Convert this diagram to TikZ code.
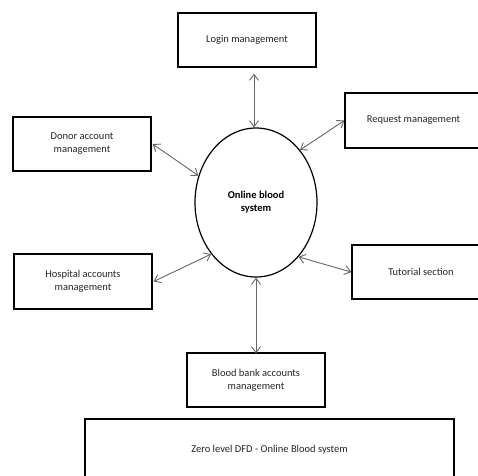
\documentclass[tikz,border=0pt]{standalone}
\usepackage{fontspec}
\setmainfont{Carlito}
\usetikzlibrary{shapes.geometric,arrows.meta,calc}
\begin{document}
\begin{tikzpicture}[x=1pt,y=-1pt,
  box/.style={draw=black,line width=1.3pt,inner sep=2pt,align=center,font=\fontsize{10.5}{13}\selectfont,text=black!85},
  conn/.style={draw=black!60,line width=0.9pt,{Straight Barb[length=6pt,width=9pt]}-{Straight Barb[length=6pt,width=9pt]}}]
\clip (0,0) rectangle (478,475);
\fill[white] (0,0) rectangle (478,475);
\node[box,minimum width=138,minimum height=54] (login) at (247,40) {Login management};
\node[box,minimum width=138,minimum height=54] (donor) at (82,144) {Donor account\\management};
\node[box,minimum width=137,minimum height=55] (req) at (413.5,120.5) {Request management};
\node[box,minimum width=138,minimum height=55] (hosp) at (83,281.5) {Hospital accounts\\management};
\node[box,minimum width=138,minimum height=54] (tut) at (421,272) {Tutorial section};
\node[box,minimum width=138,minimum height=54] (blood) at (256,380) {Blood bank accounts\\management};
\node[box,minimum width=369,minimum height=62] (title) at (269.5,450) {Zero level DFD - Online Blood system};
\node[ellipse,draw=black,line width=1.2pt,minimum width=122,minimum height=149,inner sep=0pt,align=center,font=\bfseries\fontsize{10.5}{13}\selectfont] (c) at (256,202.5) {Online blood\\system};
\draw[conn] ($(login.south)+(7,6)$) -- ($(c.north)+(-2,0)$);
\draw[conn] ([xshift=1]donor.east) -- (c.155);
\draw[conn] (req.west) -- (c.50);
\draw[conn] ([xshift=1]hosp.east) -- (c.229);
\draw[conn] (tut.west) -- (c.308);
\draw[conn] ([yshift=-1]blood.north) -- (c.south);
\end{tikzpicture}
\end{document}
